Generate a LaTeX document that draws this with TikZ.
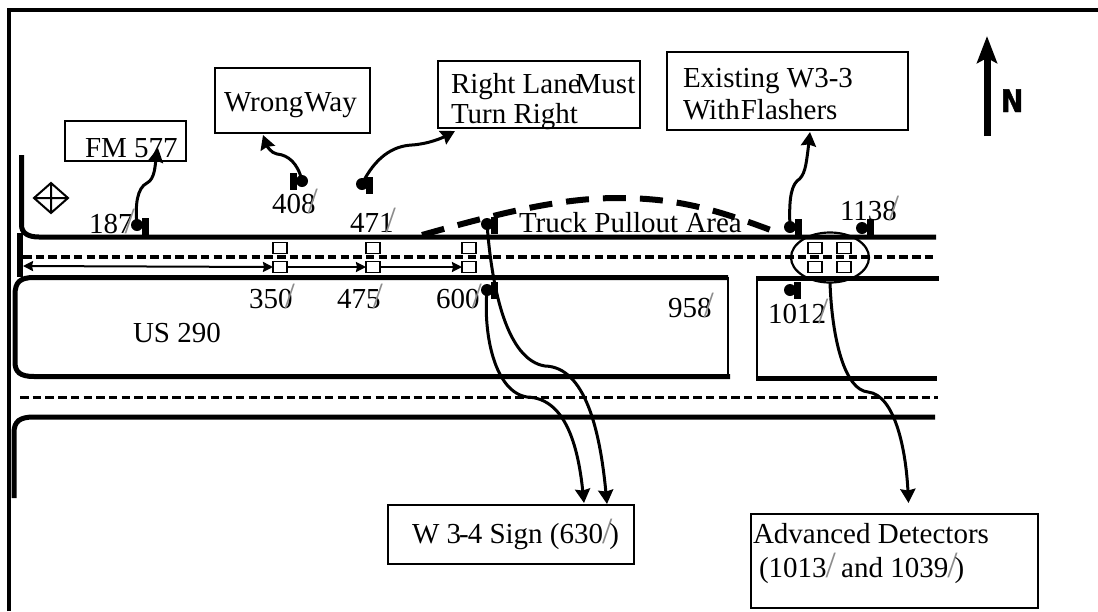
\documentclass[tikz,border=0pt]{standalone}
\usepackage{fontspec}
\setmainfont{Liberation Serif}
\newfontfamily\nfont{DejaVu Sans}[BoldFeatures={FakeStretch=0.86,FakeBold=1.5}]
\usetikzlibrary{arrows.meta,shapes.geometric}
\definecolor{primegray}{gray}{0.55}
\newcommand{\prl}{\kern-8pt{\fontsize{37}{37}\selectfont\color{primegray}/}}
\newcommand{\prb}{\kern-1pt{\fontsize{37}{37}\selectfont\color{primegray}/}\kern-3pt}
\tikzset{
  road/.style={line width=5pt},
  thinroad/.style={line width=2pt},
  lane/.style={line width=3.3pt, dash pattern=on 8.5pt off 4.2pt},
  pullout/.style={line width=6pt, dash pattern=on 23pt off 14pt},
  box/.style={draw, line width=2pt, fill=white, inner sep=0pt, outer sep=0pt},
  det/.style={draw, line width=1.8pt, fill=white, minimum width=14pt, minimum height=11pt, inner sep=0pt, outer sep=0pt},
  txt/.style={anchor=base west, inner sep=0pt, outer sep=0pt, font=\fontsize{29}{29}\selectfont},
  post/.style={fill=black, minimum width=7pt, minimum height=17pt, inner sep=0pt, outer sep=0pt},
  head/.style={circle, fill=black, minimum size=12pt, inner sep=0pt, outer sep=0pt},
  conn/.style={line width=3pt, -{Stealth[length=14pt,width=15pt,inset=1.5pt]}},
  gap/.style={line width=2pt, -{Stealth[length=10pt,width=10pt,inset=1pt]}},
}
\begin{document}
\begin{tikzpicture}[x=1pt,y=-1pt]
\useasboundingbox (0,0) rectangle (1098,611);
% frame
\draw[line width=4pt] (8.5,611) -- (8.5,10) -- (1098,10);
% diamond
\draw[line width=2pt] (34,198) -- (51,183) -- (68,198) -- (51,213) -- cycle (34,198) -- (68,198) (51,183) -- (51,213);
% roads
\draw[road] (21.5,155) -- (21.5,225) .. controls (21.5,233) and (28,237) .. (39,237) -- (936,237);
\draw[line width=6pt] (20,233) -- (20,277);
\draw[lane] (23,257) -- (936,257);
\draw[road] (728,277.5) -- (34,277.5) .. controls (20,277.5) and (15,282) .. (15,295) -- (15,362) .. controls (15,372) and (20,376.5) .. (34,376.5) -- (730,376.5);
\draw[thinroad] (728,277) -- (728,377);
\draw[thinroad] (757,278) -- (757,378);
\draw[road] (756,278) -- (939,278);
\draw[road] (756,378) -- (937,378);
\draw[lane] (20,397.5) -- (938,397.5);
\draw[road] (935,417) -- (34,417) .. controls (20,417) and (14,421) .. (14,433) -- (14,498);
% pullout
\draw[pullout] (422,235) .. controls (500,213) and (560,198) .. (618,198) .. controls (680,198) and (720,211) .. (776,232);
% detectors
\node[det] (d350a) at (280,248) {};
\node[det] (d350b) at (280,267) {};
\node[det] (d475a) at (373,248) {};
\node[det] (d475b) at (373,267) {};
\node[det] (d600a) at (469,248) {};
\node[det] (d600b) at (469,267) {};
\node[det] (dA) at (815,248) {};
\node[det] (dB) at (844,248) {};
\node[det] (dC) at (815,267) {};
\node[det] (dD) at (844,267) {};
\coordinate (wallL) at (23,266);
\draw[gap,{Stealth[length=10pt,width=10pt,inset=1pt]}-{Stealth[length=10pt,width=10pt,inset=1pt]}] (wallL) -- (d350b.west);
\draw[gap] (d350b.east) -- (d475b.west);
\draw[gap] (d475b.east) -- (d600b.west);
\node[draw, ellipse, line width=2.2pt, minimum width=78pt, minimum height=50pt, inner sep=0pt, outer sep=0pt] (oval) at (830,257.5) {};
% signs
\node[post] (p187) at (145,226) {};
\node[head] (h187) at (137,225) {};
\node[post] (p408) at (293.5,181.5) {};
\node[head] (h408) at (302,181) {};
\node[post] (p471) at (369.5,185) {};
\node[head] (h471) at (362,184) {};
\node[post] (pTop) at (494,225) {};
\node[head] (hTop) at (487,224) {};
\node[post] (p600) at (494,290.5) {};
\node[head] (h600) at (487,290) {};
\node[post] (pEx) at (798.5,227.5) {};
\node[head] (hEx) at (790,227) {};
\node[post] (p1138) at (870.5,227.5) {};
\node[head] (h1138) at (862,228) {};
\node[post] (p1012) at (797.5,290.5) {};
\node[head] (h1012) at (790,290) {};
% boxes
\node[box, minimum width=121pt, minimum height=40pt] (bFM) at (125.5,141) {};
\node[box, minimum width=155pt, minimum height=65pt] (bWW) at (292.5,100.5) {};
\node[box, minimum width=202pt, minimum height=67pt] (bRL) at (539,94.5) {};
\node[box, minimum width=241pt, minimum height=78pt] (bEx) at (787.5,91) {};
\node[box, minimum width=246pt, minimum height=59pt] (bW3) at (511,534.5) {};
\node[box, minimum width=287pt, minimum height=94pt] (bAD) at (894.5,561) {};
% box texts
\node[txt] (tFM) at (85,157) {FM 577};
\node[txt] (tWW) at (224,111) {Wrong\kern1pt Way};
\node[txt] (tRL1) at (451,93) {Right Lane\kern-5pt Must};
\node[txt] (tRL2) at (451,123) {Turn Right};
\node[txt] (tEx1) at (683,87) {Existing W3-3};
\node[txt] (tEx2) at (683,119) {With\kern1pt Flashers};
\node[txt] (tW3) at (412,543) {W 3\kern-2pt-\kern-1pt4 Sign (630\prb)};
\node[txt] (tAD1) at (753,543) {Advanced Detectors};
\node[txt] (tAD2) at (759,577) {(1013\prb\kern1pt{} and 1039\prb)};
% labels
\node[txt] (l187) at (89,233) {187\prl};
\node[txt] (l408) at (272,213) {408\prl};
\node[txt] (l471) at (350,232) {471\prl};
\node[txt] (l350) at (249,308) {350\prl};
\node[txt] (l475) at (337,308) {475\prl};
\node[txt] (l600) at (436,308) {600\prl};
\node[txt] (l958) at (668,317) {958\prl};
\node[txt] (l1012) at (768,323) {1012\prl};
\node[txt] (l1138) at (840,220) {1138\prl};
\node[txt] (lUS) at (133,342) {US 290};
\node[txt] (lTP) at (519,232) {Truck Pullout Area};
% connectors
\coordinate (eFM) at (158,148);
\coordinate (eWW) at (263,135);
\coordinate (eRL) at (455,131);
\coordinate (eEx) at (810,132);
\coordinate (eWa) at (584,503);
\coordinate (eWb) at (607,504);
\coordinate (eAD) at (908.5,503);
\draw[conn] (h187.center) .. controls (135,205) and (137,188) .. (147,183) .. controls (155,179) and (155,165) .. (eFM);
\draw[conn] (h408.center) .. controls (298,163) and (288,155) .. (277,154) .. controls (271,153) and (267,146) .. (eWW);
\draw[conn] (h471.center) .. controls (375,158) and (392,146) .. (412,145) .. controls (428,144) and (442,138) .. (eRL);
\draw[conn] (hEx.center) .. controls (789,205) and (790,188) .. (797,181) .. controls (805,176) and (806,165) .. (808,150) -- (eEx);
\draw[conn] (h600.center) .. controls (483,335) and (495,392) .. (527,397) .. controls (565,398) and (578,445) .. (eWa);
\draw[conn] (hTop.center) .. controls (492,290) and (507,360) .. (545,366) .. controls (585,367) and (600,430) .. (eWb);
\draw[conn] (oval.south) .. controls (832,340) and (845,390) .. (868,392) .. controls (895,395) and (906,450) .. (eAD);
% north arrow
\coordinate (nS) at (987,136);
\coordinate (nE) at (987,36);
\draw[line width=7pt, -{Stealth[length=27pt,width=20pt,inset=5pt]}] (nS) -- (nE);
\node[anchor=base west, inner sep=0pt, outer sep=0pt, font=\nfont\bfseries\fontsize{31}{31}\selectfont] (tN) at (1001,112) {N};
\end{tikzpicture}
\end{document}
